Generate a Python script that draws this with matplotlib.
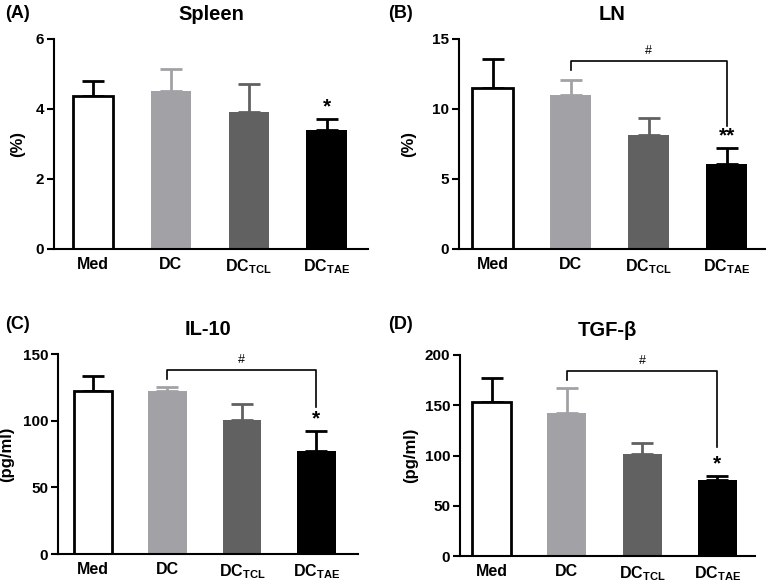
import matplotlib
matplotlib.use("Agg")
import matplotlib.pyplot as plt

plt.rcParams['font.family'] = ['Liberation Sans', 'DejaVu Sans']
plt.rcParams['mathtext.fontset'] = 'custom'
plt.rcParams['mathtext.rm'] = 'Liberation Sans:bold'
plt.rcParams['mathtext.bf'] = 'Liberation Sans:bold'
plt.rcParams['mathtext.it'] = 'Liberation Sans:bold'

categories = ['Med', 'DC', r'DC$_{\mathrm{TCL}}$', r'DC$_{\mathrm{TAE}}$']

spleen_mean = [4.37, 4.51, 3.91, 3.40]
spleen_err = [0.43, 0.63, 0.80, 0.31]
ln_mean = [11.5, 11.0, 8.14, 6.07]
ln_err = [2.1, 1.1, 1.22, 1.13]
il10_mean = [122, 122, 100.5, 77]
il10_err = [11.5, 3.5, 12, 15]
tgfb_mean = [153, 142, 101.5, 75.6]
tgfb_err = [24, 25, 11, 4]

titles = ['Spleen', 'LN', 'IL-10', 'TGF-β']
panel_labels = ['(A)', '(B)', '(C)', '(D)']
ylabels = ['(%)', '(%)', '(pg/ml)', '(pg/ml)']
yticks = [[0, 2, 4, 6], [0, 5, 10, 15], [0, 50, 100, 150], [0, 50, 100, 150, 200]]
stars = [['', '', '', '*'], ['', '', '', '**'], ['', '', '', '*'], ['', '', '', '*']]
# bracket: (top level, left foot, right foot) or None
brackets = [None, (13.4, 12.8, 8.8), (138, 131, 110), (184, 175, 108.5)]

face = ['white', '#a2a2a6', '#616161', 'black']
edge = ['black', '#a2a2a6', '#616161', 'black']

means = [spleen_mean, ln_mean, il10_mean, tgfb_mean]
errs = [spleen_err, ln_err, il10_err, tgfb_err]

W, H = 766, 584
fig = plt.figure(figsize=(7.66, 5.84), dpi=100)
rects_px = [
    (54, 249, 314, 210),
    (459, 249, 306, 210),
    (58, 554, 300, 200),
    (460, 556, 295, 201),
]
xlims = [(-0.5, 3.53), (-0.43, 3.49), (-0.47, 3.56), (-0.42, 3.5)]
label_pos = [(5, 13), (388, 13), (5, 325), (388, 325)]
ylabel_x = [25, 416, 14, 418]

for k in range(4):
    l, b, w, h = rects_px[k]
    ax = fig.add_axes([l / W, 1 - b / H, w / W, h / H])
    x = list(range(4))
    m = means[k]
    e = errs[k]
    for i in x:
        ax.bar(i, m[i], width=0.52, color=face[i], edgecolor=edge[i],
               linewidth=2.0 if i == 0 else 0, zorder=2)
        ax.errorbar(i, m[i], yerr=[[0], [e[i]]], fmt='none', ecolor=edge[i],
                    elinewidth=2, capsize=8, capthick=2, zorder=1)
        if stars[k][i]:
            ax.annotate(stars[k][i], (i, m[i] + e[i]), xytext=(0, 2),
                        textcoords='offset points', ha='center', va='bottom',
                        fontsize=15, fontweight='bold')
    ymax = yticks[k][-1]
    ax.set_ylim(0, ymax)
    ax.set_xlim(*xlims[k])
    ax.set_yticks(yticks[k])
    ax.set_yticklabels([str(t) for t in yticks[k]], fontsize=11, fontweight='bold')
    ax.set_xticks(x)
    ax.set_xticklabels(categories, fontsize=11.5, fontweight='bold')
    ax.tick_params(axis='x', length=0, pad=6)
    ax.tick_params(axis='y', length=5, width=1.5, direction='out', pad=2)
    for s in ['top', 'right']:
        ax.spines[s].set_visible(False)
    for s in ['left', 'bottom']:
        ax.spines[s].set_linewidth(1.5)
    ax.set_ylabel(ylabels[k], fontsize=12, fontweight='bold')
    ax.yaxis.set_label_coords((ylabel_x[k] - l) / w, 0.5)
    ax.set_title(titles[k], fontsize=14.5, fontweight='bold', pad=14)
    if brackets[k] is not None:
        top, lf, rf = brackets[k]
        ax.plot([1, 1, 3, 3], [lf, top, top, rf], color='black', lw=1.2,
                clip_on=False, zorder=3)
        ax.text(2, top + ymax * 0.02, '#', ha='center', va='bottom', fontsize=9)
    fig.text(label_pos[k][0] / W, 1 - label_pos[k][1] / H, panel_labels[k],
             fontsize=13, fontweight='bold', ha='left', va='center')

fig.savefig('out.png', dpi=100)
